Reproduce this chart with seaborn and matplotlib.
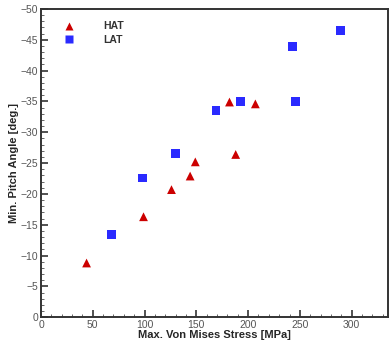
import matplotlib
matplotlib.use("Agg")
import matplotlib.pyplot as plt
from matplotlib.ticker import MultipleLocator
import seaborn as sns
import pandas as pd

hat_stress = [44, 99, 126, 144, 149, 182, 188, 207]
hat_angle = [-8.8, -16.3, -20.7, -22.9, -25.2, -34.9, -26.4, -34.6]
lat_stress = [68, 98, 130, 169, 193, 246, 243, 289]
lat_angle = [-13.4, -22.6, -26.6, -33.5, -35.0, -35.0, -43.9, -46.5]

df = pd.DataFrame({
    "stress": hat_stress + lat_stress,
    "angle": hat_angle + lat_angle,
    "case": ["HAT"] * len(hat_stress) + ["LAT"] * len(lat_stress),
})

sns.set_style("white")
plt.rcParams['font.family'] = ['Liberation Sans', 'DejaVu Sans']
plt.rcParams.update({
    "xtick.bottom": True, "ytick.left": True,
    "xtick.direction": "in", "ytick.direction": "in",
    "xtick.major.size": 5, "ytick.major.size": 5,
    "xtick.minor.size": 2.5, "ytick.minor.size": 2.5,
    "xtick.minor.visible": True, "ytick.minor.visible": True,
})

fig = plt.figure(figsize=(3.92, 3.43), dpi=100)
ax = fig.add_axes([0.1046, 0.075, 0.885, 0.899])

sns.scatterplot(data=df, x="stress", y="angle", hue="case", style="case",
                palette={"HAT": "#cc0000", "LAT": "#2a2aff"},
                markers={"HAT": "^", "LAT": "s"}, s=40, edgecolor="none",
                ax=ax, legend=True)

ax.set_xlim(0, 335)
ax.set_ylim(0, -50)
ax.xaxis.set_major_locator(MultipleLocator(50))
ax.xaxis.set_minor_locator(MultipleLocator(10))
ax.yaxis.set_major_locator(MultipleLocator(5))
ax.yaxis.set_minor_locator(MultipleLocator(1))
ax.tick_params(which="major", direction="in", length=5, width=1.2, color="#333333",
               labelsize=7.5, labelcolor="#555555", top=False, right=False,
               bottom=True, left=True, pad=2)
ax.tick_params(which="minor", direction="in", length=2.5, width=0.7, color="#666666",
               top=False, right=False, bottom=True, left=True)
for sp in ax.spines.values():
    sp.set_linewidth(1.4)
    sp.set_color("#333333")

ax.set_xlabel("Max. Von Mises Stress [MPa]", fontsize=8, fontweight="bold", labelpad=0)
ax.set_ylabel("Min. Pitch Angle [deg.]", fontsize=8, fontweight="bold", labelpad=1)

leg = ax.legend(loc="upper left", frameon=False, prop={"weight": "bold", "size": 7.5},
                bbox_to_anchor=(0.025, 0.99), handletextpad=2.2, labelspacing=0.3,
                markerscale=0.9)
for t in leg.get_texts():
    t.set_color("#333333")

fig.savefig("out.png", dpi=100)
